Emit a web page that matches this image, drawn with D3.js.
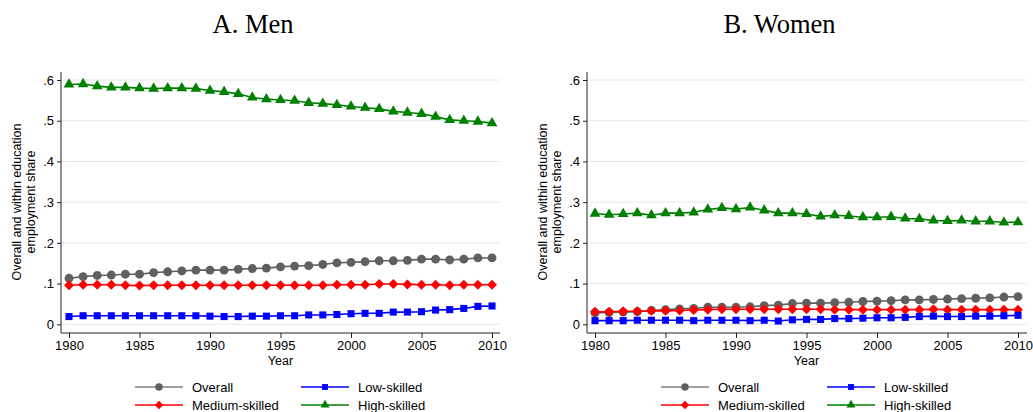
<!DOCTYPE html>
<html lang="en">
<head>
<meta charset="UTF-8" />
<title>Employment share</title>
<script src="https://cdn.jsdelivr.net/npm/d3@7"></script>
<style>
  body { margin: 0; background: #fff; }
  text { font-family: "Liberation Sans", Arial, sans-serif; fill: #000; }
</style>
</head>
<body>
<div id="chart"></div>
<script>
var years = d3.range(1980, 2011);
var yTicks = [0, 0.1, 0.2, 0.3, 0.4, 0.5, 0.6];
var xTicks = [1980, 1985, 1990, 1995, 2000, 2005, 2010];

// men
var menOverall = [.113,.117,.120,.121,.123,.123,.127,.129,.131,.133,.133,.133,.135,.137,.138,.141,.143,.144,.147,.151,.152,.154,.156,.156,.157,.160,.160,.158,.160,.163,.163];
var menMedium  = [.096,.097,.097,.097,.096,.095,.096,.096,.096,.096,.096,.096,.096,.096,.096,.096,.096,.096,.096,.097,.097,.097,.099,.099,.098,.097,.097,.096,.097,.097,.097];
var menLow     = [.019,.021,.021,.021,.021,.021,.021,.021,.021,.021,.020,.019,.019,.020,.020,.021,.021,.023,.023,.024,.026,.027,.027,.030,.030,.031,.035,.036,.039,.044,.045];
var menHigh    = [.589,.590,.585,.582,.582,.580,.579,.580,.580,.579,.574,.571,.566,.557,.553,.551,.549,.544,.542,.539,.535,.532,.529,.523,.520,.517,.510,.502,.500,.498,.494];

// women
var womenOverall = [.028,.029,.030,.031,.034,.036,.038,.039,.042,.042,.042,.043,.046,.047,.051,.052,.052,.053,.054,.056,.057,.058,.060,.060,.061,.062,.063,.064,.065,.067,.068];
var womenMedium  = [.031,.031,.032,.032,.033,.033,.034,.035,.036,.037,.037,.037,.037,.037,.037,.037,.037,.036,.036,.036,.036,.036,.036,.036,.037,.036,.036,.036,.036,.036,.036];
var womenLow     = [.009,.009,.009,.010,.010,.010,.010,.009,.010,.010,.010,.009,.010,.008,.011,.012,.012,.014,.014,.015,.016,.016,.017,.019,.020,.019,.019,.020,.020,.021,.022];
var womenHigh    = [.272,.269,.271,.273,.268,.273,.273,.275,.282,.286,.283,.287,.280,.273,.273,.271,.265,.268,.266,.263,.263,.264,.260,.259,.255,.254,.255,.253,.253,.250,.251];

var colors = { "Overall": "#606060", "Medium-skilled": "#ff0000", "Low-skilled": "#0000ff", "High-skilled": "#008000" };
var shapes = { "Overall": d3.symbolCircle, "Medium-skilled": d3.symbolSquare, "Low-skilled": d3.symbolSquare, "High-skilled": d3.symbolTriangle };
var sizes = { "Overall": 62, "Medium-skilled": 50, "Low-skilled": 50, "High-skilled": 50 };
var rotate = { "Overall": 0, "Medium-skilled": 45, "Low-skilled": 0, "High-skilled": 0 };

var panels = [
  { title: "A. Men", left: 61, x0: 69, x1: 492, right: 500,
    data: { "Overall": menOverall, "Medium-skilled": menMedium, "Low-skilled": menLow, "High-skilled": menHigh } },
  { title: "B. Women", left: 587, x0: 595, x1: 1018, right: 1027,
    data: { "Overall": womenOverall, "Medium-skilled": womenMedium, "Low-skilled": womenLow, "High-skilled": womenHigh } }
];

var svg = d3.select("#chart").append("svg")
  .attr("width", 1033).attr("height", 412);

var y = d3.scaleLinear().domain([0, 0.6]).range([324.3, 80]);
var plotTop = 72, plotBottom = 333;

function fmt(v) {
  if (v === 0) return "0";
  return "." + Math.round(v * 10);
}

// overall first, low-skilled last (on top)
var drawOrder = ["Overall", "High-skilled", "Medium-skilled", "Low-skilled"];

panels.forEach(function(p) {
  var g = svg.append("g");
  var x = d3.scaleLinear().domain([1980, 2010]).range([p.x0, p.x1]);

  g.append("text")
    .attr("x", (p.left - 55 + p.right) / 2).attr("y", 33)
    .attr("text-anchor", "middle")
    .style("font-family", "'Liberation Serif', 'Times New Roman', serif")
    .style("font-size", "26.5px")
    .text(p.title);

  // grid
  g.selectAll("line.grid").data(yTicks).enter().append("line")
    .attr("x1", p.left).attr("x2", p.right)
    .attr("y1", function(d) { return y(d); })
    .attr("y2", function(d) { return y(d); })
    .attr("stroke", "#e8e8e8").attr("stroke-width", 1);

  // y axis
  var ya = g.append("g")
    .attr("transform", "translate(" + p.left + ",0)")
    .call(d3.axisLeft(y).tickValues(yTicks).tickFormat(fmt).tickSize(4).tickPadding(3));
  ya.select(".domain").attr("d", "M0," + plotTop + "V" + plotBottom).attr("stroke", "#222");
  ya.selectAll(".tick line").attr("stroke", "#222");
  ya.selectAll(".tick text").style("font-family", "'Liberation Sans', Arial, sans-serif").style("font-size", "13px").attr("fill", "#000");

  // x axis
  var xa = g.append("g")
    .attr("transform", "translate(0," + plotBottom + ")")
    .call(d3.axisBottom(x).tickValues(xTicks).tickFormat(d3.format("d")).tickSize(5).tickPadding(3));
  xa.select(".domain").attr("d", "M" + p.left + ",0H" + p.right).attr("stroke", "#222");
  xa.selectAll(".tick line").attr("stroke", "#222");
  xa.selectAll(".tick text").style("font-family", "'Liberation Sans', Arial, sans-serif").style("font-size", "13px").attr("fill", "#000");

  g.append("text")
    .attr("x", (p.x0 + p.x1) / 2).attr("y", 365)
    .attr("text-anchor", "middle")
    .style("font-size", "12.5px")
    .text("Year");

  // y title
  var yt = g.append("text")
    .attr("transform", "translate(" + (p.left - 40) + ",202) rotate(-90)")
    .attr("text-anchor", "middle")
    .style("font-size", "12.5px");
  yt.append("tspan").attr("x", 0).attr("dy", 0).text("Overall and within education");
  yt.append("tspan").attr("x", 0).attr("dy", "1.1em").text("employment share");

  var line = d3.line()
    .x(function(d, i) { return x(years[i]); })
    .y(function(d) { return y(d); });

  drawOrder.forEach(function(name) {
    var vals = p.data[name];
    var cls = "m" + name.replace(/\W/g, "");
    g.append("path")
      .attr("d", line(vals))
      .attr("fill", "none")
      .attr("stroke", colors[name])
      .attr("stroke-width", 1.6);
    g.selectAll("path." + cls).data(vals).enter().append("path")
      .attr("class", cls)
      .attr("transform", function(d, i) {
        return "translate(" + x(years[i]) + "," + y(d) + ") rotate(" + rotate[name] + ")";
      })
      .attr("d", d3.symbol().type(shapes[name]).size(sizes[name]))
      .attr("fill", colors[name]);
  });

  // legend
  var lx = p.left + 74;
  var legendItems = [
    { name: "Overall", col: 0, row: 0 },
    { name: "Low-skilled", col: 1, row: 0 },
    { name: "Medium-skilled", col: 0, row: 1 },
    { name: "High-skilled", col: 1, row: 1 }
  ];
  legendItems.forEach(function(it) {
    var ox = lx + it.col * 166;
    var oy = 387 + it.row * 18;
    var c = it.name === "Overall" ? "#808080" : colors[it.name];
    g.append("line")
      .attr("x1", ox).attr("x2", ox + 48)
      .attr("y1", oy).attr("y2", oy)
      .attr("stroke", c).attr("stroke-width", 1.6);
    g.append("path")
      .attr("transform", "translate(" + (ox + 24) + "," + oy + ") rotate(" + rotate[it.name] + ")")
      .attr("d", d3.symbol().type(shapes[it.name]).size(sizes[it.name] * 0.7))
      .attr("fill", colors[it.name]);
    g.append("text")
      .attr("x", ox + 57).attr("y", oy + 4.5)
      .style("font-size", "13px")
      .text(it.name);
  });
});
</script>
</body>
</html>
